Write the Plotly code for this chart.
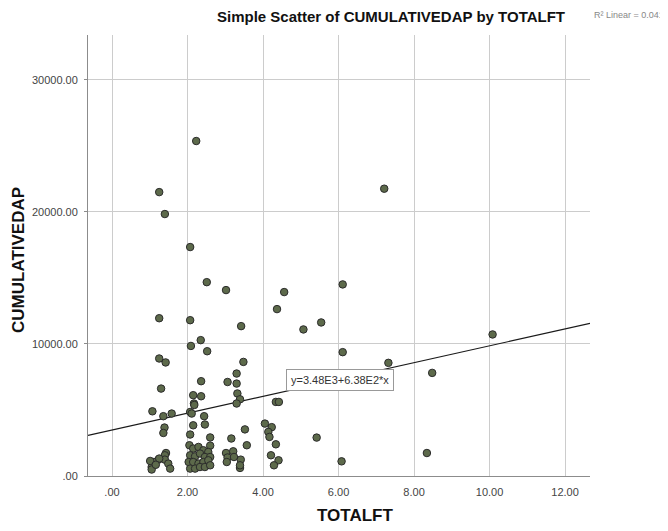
import plotly.graph_objects as go

# Data (TOTALFT, CUMULATIVEDAP)
totalft = [
    2.23, 1.25, 1.40, 7.21, 2.07, 2.51, 3.02, 4.56, 6.11, 4.37,
    1.25, 2.07, 3.42, 5.07, 5.54, 10.08, 2.35, 2.09, 2.52, 6.11,
    1.25, 1.42, 3.48, 7.32, 8.48, 3.30, 2.36, 3.06, 3.30, 1.30,
    3.32, 2.15, 2.36, 3.39, 4.34, 4.42, 2.17, 3.30, 2.18, 1.07,
    2.07, 1.58, 1.36, 2.11, 2.44, 2.15, 2.46, 1.39, 1.36, 2.07,
    2.60, 4.05, 4.23, 3.52, 4.14, 4.17, 3.16, 5.42, 3.57, 4.34,
    2.60, 8.34, 6.08,
    1.43, 1.40, 1.23, 1.11, 1.05, 1.40, 1.49, 1.54, 1.05, 1.01,
    1.25, 1.16,
    2.05, 2.15, 2.29, 2.42, 2.55, 2.07, 2.20, 2.33, 2.46, 2.60,
    2.03, 2.15, 2.29, 2.42, 2.55, 2.07, 2.20, 2.33, 2.46, 2.60,
    3.02, 3.21, 3.06, 3.23, 3.41, 3.39, 3.39, 3.04,
    4.21, 4.41, 4.29,
]
cumulativedap = [
    25370, 21500, 19840, 21760, 17340, 14680, 14080, 13930, 14510, 12640,
    11950, 11800, 11350, 11100, 11630, 10720, 10290, 9850, 9450, 9380,
    8900, 8600, 8640, 8570, 7810, 7760, 7180, 7120, 7000, 6620,
    6250, 6120, 6040, 5810, 5610, 5610, 5490, 5490, 5380, 4900,
    4850, 4730, 4530, 4730, 4530, 3840, 3900, 3670, 3260, 3140,
    2920, 3970, 3700, 3530, 3340, 2960, 2840, 2910, 2330, 2400,
    2300, 1740, 1110,
    1740, 1570, 1240, 1060, 680, 1240, 940, 560, 490, 1140,
    1320, 850,
    2330, 2080, 2200, 1950, 1820, 1570, 1490, 1700, 1440, 1440,
    1060, 1060, 940, 1060, 1190, 560, 560, 680, 680, 810,
    1740, 1870, 1400, 1440, 1240, 610, 810, 1060,
    1570, 1190, 810,
]

x_tickvals = [0, 2, 4, 6, 8, 10, 12]
x_ticktext = [".00", "2.00", "4.00", "6.00", "8.00", "10.00", "12.00"]
y_tickvals = [0, 10000, 20000, 30000]
y_ticktext = [".00", "10000.00", "20000.00", "30000.00"]

fit_intercept = 3480.0
fit_slope = 638.0
fit_label = "y=3.48E3+6.38E2*x"
r2_label = "R² Linear = 0.041"

x_range = [-0.636, 12.66]
y_range = [0, 33400]

FONT = "Liberation Sans, Arial, sans-serif"

# The page body adds an 8px offset, so the figure is 8px smaller each way
W, H = 660, 523
ML, MR, MT, MB = 80, 78, 27, 55
OFF = 8
pw = W - ML - MR
ph = H - MT - MB


def px_to_paper(sx, sy):
    """Screen pixel (in the 668x531 window) to paper coordinates."""
    return (sx - OFF - ML) / pw, 1 - (sy - OFF - MT) / ph


fig = go.Figure()

fit_x = list(x_range)
fit_y = [fit_intercept + fit_slope * v for v in fit_x]
fig.add_trace(go.Scatter(
    x=fit_x, y=fit_y, mode="lines",
    line=dict(color="#1a1a1a", width=1.2),
    hoverinfo="skip", showlegend=False, cliponaxis=True,
))

fig.add_trace(go.Scatter(
    x=totalft, y=cumulativedap, mode="markers",
    marker=dict(size=7.5, color="#5d6a4b", line=dict(color="#2b2b2b", width=1)),
    showlegend=False,
))

fig.update_layout(
    width=W, height=H,
    margin=dict(l=ML, r=MR, t=MT, b=MB),
    paper_bgcolor="white", plot_bgcolor="white",
    font=dict(family=FONT, color="#333333"),
    title=dict(
        text="<b>Simple Scatter of CUMULATIVEDAP by TOTALFT</b>",
        x=383 / W, xanchor="center", y=1 - 9 / H, yanchor="middle",
        font=dict(size=15, color="#111111", family=FONT),
    ),
    xaxis=dict(
        range=x_range, tickvals=x_tickvals, ticktext=x_ticktext,
        showgrid=True, gridcolor="#cccccc", gridwidth=1,
        zeroline=False, showline=True, linecolor="#8c8c8c", linewidth=1,
        ticks="", ticklabelstandoff=6, automargin=False,
        tickfont=dict(size=11, color="#444444", family=FONT),
    ),
    yaxis=dict(
        range=y_range, tickvals=y_tickvals, ticktext=y_ticktext,
        showgrid=True, gridcolor="#cccccc", gridwidth=1,
        zeroline=False, showline=True, linecolor="#8c8c8c", linewidth=1,
        ticks="outside", ticklen=3, tickcolor="#8c8c8c",
        ticklabelstandoff=4, automargin=False,
        tickfont=dict(size=11, color="#444444", family=FONT),
    ),
)

# Axis titles
ax_x, ax_y = px_to_paper(355, 515)
fig.add_annotation(
    x=ax_x, y=ax_y, xref="paper", yref="paper", text="<b>TOTALFT</b>",
    showarrow=False, xanchor="center", yanchor="middle",
    font=dict(size=17, color="#111111", family=FONT),
)
ay_x, ay_y = px_to_paper(18, 260)
fig.add_annotation(
    x=ay_x, y=ay_y, xref="paper", yref="paper", text="<b>CUMULATIVEDAP</b>",
    showarrow=False, xanchor="center", yanchor="middle", textangle=-90,
    font=dict(size=17, color="#111111", family=FONT),
)

# Fit equation label
fig.add_annotation(
    x=6.04, y=7250, xref="x", yref="y", text=fit_label, showarrow=False,
    font=dict(size=11, color="#333333", family=FONT),
    bgcolor="white", bordercolor="#999999", borderwidth=1, borderpad=4,
)

# R² label
r_x, r_y = px_to_paper(592, 15)
fig.add_annotation(
    x=r_x, y=r_y, xref="paper", yref="paper",
    text=r2_label, showarrow=False, xanchor="left", yanchor="middle",
    font=dict(size=9, color="#888888", family=FONT),
)

fig.write_html("out.html")
